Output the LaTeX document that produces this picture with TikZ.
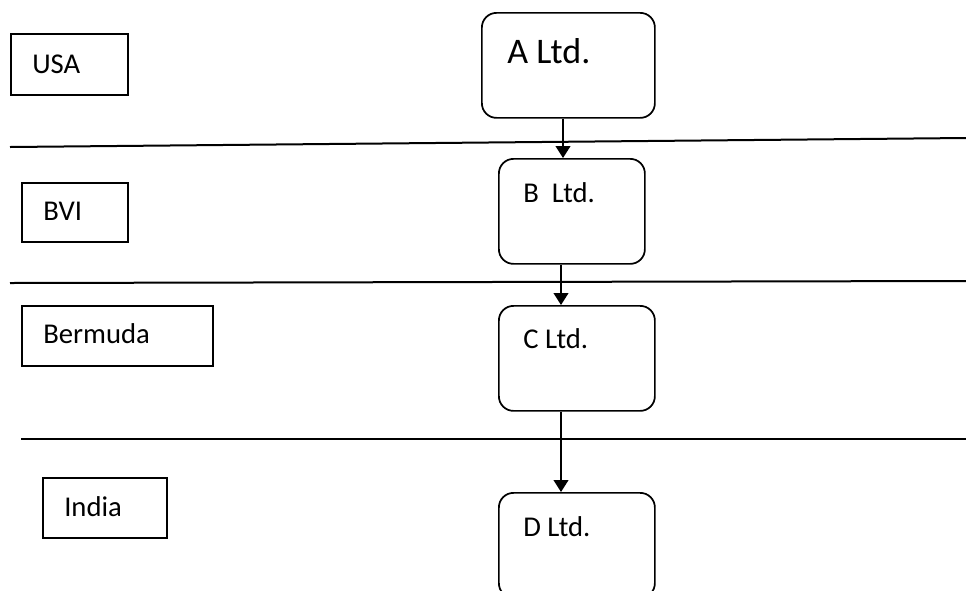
\documentclass[tikz,border=0pt]{standalone}
\usepackage{fontspec}
\setmainfont{Carlito}
\usetikzlibrary{arrows.meta}
\begin{document}
\begin{tikzpicture}[x=0.75pt,y=-0.75pt,
  sepline/.style={line width=1.5pt},
  landbox/.style={draw,line width=1.3pt,inner sep=0pt,anchor=north west},
  cobox/.style={draw,line width=1.3pt,rounded corners=11pt,inner sep=0pt,anchor=north west},
  lbl/.style={anchor=base west,inner sep=0pt,font=\fontsize{21.5}{24}\selectfont},
  arr/.style={line width=1.5pt,-{Triangle[length=9pt,width=11pt]}}]
\fill[white] (0,0) rectangle (966,590);
\useasboundingbox (0,0) rectangle (966,590);
\clip (0,0) rectangle (966,590);
% separator lines
\coordinate (l1a) at (10,147); \coordinate (l1b) at (966,138);
\coordinate (l2a) at (10,283); \coordinate (l2b) at (966,281);
\coordinate (l3a) at (21,439); \coordinate (l3b) at (966,439);
\draw[sepline] (l1a) -- (l1b);
\draw[sepline] (l2a) -- (l2b);
\draw[sepline] (l3a) -- (l3b);
% country boxes
\node[landbox,minimum width=117*0.75pt,minimum height=61*0.75pt] (usa) at (10,33) {};
\node[lbl] (usat) at (32,73) {USA};
\node[landbox,minimum width=106*0.75pt,minimum height=59*0.75pt] (bvi) at (21,182) {};
\node[lbl] (bvit) at (43,220) {BVI};
\node[landbox,minimum width=191*0.75pt,minimum height=60*0.75pt] (ber) at (21,305) {};
\node[lbl] (bert) at (43,343) {Bermuda};
\node[landbox,minimum width=124*0.75pt,minimum height=60*0.75pt] (ind) at (42,477) {};
\node[lbl] (indt) at (64,516) {India};
% company boxes
\node[cobox,minimum width=173*0.75pt,minimum height=105*0.75pt] (A) at (481,12) {};
\node[lbl,font=\fontsize{27}{30}\selectfont] (At) at (507,63) {A Ltd.};
\node[cobox,minimum width=146*0.75pt,minimum height=105*0.75pt] (B) at (498,158) {};
\node[lbl] (Bt) at (523,202) {B\ \ Ltd.};
\node[cobox,minimum width=156*0.75pt,minimum height=105*0.75pt] (C) at (498,305) {};
\node[lbl] (Ct) at (523,348) {C Ltd.};
\node[cobox,minimum width=156*0.75pt,minimum height=105*0.75pt] (D) at (498,492) {};
\node[lbl] (Dt) at (523,536) {D Ltd.};
% arrows
\draw[arr] (A.south -| 563,0) -- (B.north -| 563,0);
\draw[arr] (B.south -| 561,0) -- (C.north -| 561,0);
\draw[arr] (C.south -| 561,0) -- (D.north -| 561,0);
\end{tikzpicture}
\end{document}
